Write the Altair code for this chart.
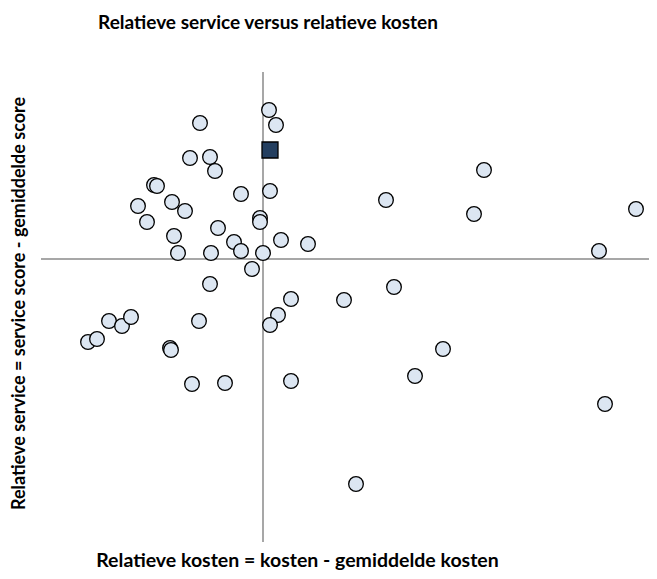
import altair as alt
import pandas as pd

# relative cost (x) and relative service (y) per outlet
kosten = [0.6, 1.3, -6.3, -7.3, -5.3, -4.8, -10.9, -10.6, -12.5, -9.1,
          -7.8, -11.6, -2.2, 0.7, -0.3, -0.3, -4.5, -8.9, -8.5, -5.2,
          -2.9, -2.2, 0.0, 1.8, 4.5, -1.1, -5.3, 2.8, 8.1, -15.4,
          -14.1, -13.2, -17.5, -16.6, -6.4, 1.5, 0.7, -9.3, -9.2, -7.1,
          -3.8, 2.8, 9.3, 22.1, 12.3, 21.1, 37.3, 33.6, 13.1, 18.0,
          15.2, 34.2]
service = [14.9, 13.4, 13.6, 10.1, 10.2, 8.8, 7.4, 7.3, 5.3, 5.7,
           4.8, 3.7, 6.5, 6.8, 4.1, 3.7, 3.1, 2.3, 0.6, 0.6,
           1.7, 0.8, 0.6, 1.9, 1.5, -1.0, -2.5, -4.0, -4.1, -6.2,
           -6.7, -5.8, -8.3, -8.0, -6.2, -5.6, -6.6, -8.9, -9.1, -12.5,
           -12.4, -12.2, -22.5, 8.9, 5.9, 4.5, 5.0, 0.8, -2.8, -9.0,
           -11.7, -14.5]
highlight_kosten = [0.7]
highlight_service = [10.9]

x_domain = [-22.2, 38.6]
y_domain = [-28.3, 18.7]

df = pd.DataFrame({"kosten": kosten, "service": service})
dh = pd.DataFrame({"kosten": highlight_kosten, "service": highlight_service})
zero = pd.DataFrame({"v": [0]})

xs = alt.Scale(domain=x_domain, nice=False, zero=False)
ys = alt.Scale(domain=y_domain, nice=False, zero=False)

xaxis = alt.Axis(domain=False, ticks=False, labels=False, grid=False,
                 title="Relatieve kosten = kosten - gemiddelde kosten",
                 titleX=256, titleY=18, titleAlign="center", titleBaseline="middle",
                 titleFont="Lato", titleFontSize=19.5, titleFontWeight="bold",
                 titleColor="#000000")
yaxis = alt.Axis(domain=False, ticks=False, labels=False, grid=False,
                 title="Relatieve service = service score - gemiddelde score",
                 titleX=-22, titleY=231, titleAngle=-90, titleAlign="center",
                 titleBaseline="middle",
                 titleFont="Lato", titleFontSize=18, titleFontWeight="bold",
                 titleColor="#000000")

vline = alt.Chart(zero).mark_rule(color="#8a8a8a", strokeWidth=1.5).encode(
    x=alt.X("v:Q", scale=xs, axis=xaxis))
hline = alt.Chart(zero).mark_rule(color="#8a8a8a", strokeWidth=1.5).encode(
    y=alt.Y("v:Q", scale=ys, axis=yaxis))

pts = alt.Chart(df).mark_point(shape="circle", filled=True, fill="#dce6f2",
                               stroke="#000000", strokeWidth=1.3, size=215,
                               opacity=1).encode(
    x=alt.X("kosten:Q", scale=xs, axis=xaxis),
    y=alt.Y("service:Q", scale=ys, axis=yaxis))

sq = alt.Chart(dh).mark_point(shape="square", filled=True, fill="#243f60",
                              stroke="#000000", strokeWidth=1.3, size=256,
                              opacity=1).encode(
    x=alt.X("kosten:Q", scale=xs, axis=xaxis),
    y=alt.Y("service:Q", scale=ys, axis=yaxis))

chart = alt.layer(vline, hline, pts, sq).properties(
    width=608, height=470,
    autosize=alt.AutoSizeParams(type="none"),
    padding={"left": 33, "top": 64, "right": 0, "bottom": 29},
    title=alt.TitleParams("Relatieve service versus relatieve kosten",
                          font="Lato", fontSize=19, fontWeight="bold",
                          color="#000000", anchor="middle", dx=-77, offset=38,
                          frame="group"),
).configure_view(stroke=None)

chart.save("out.html", embed_options={"renderer": "svg", "actions": False})
